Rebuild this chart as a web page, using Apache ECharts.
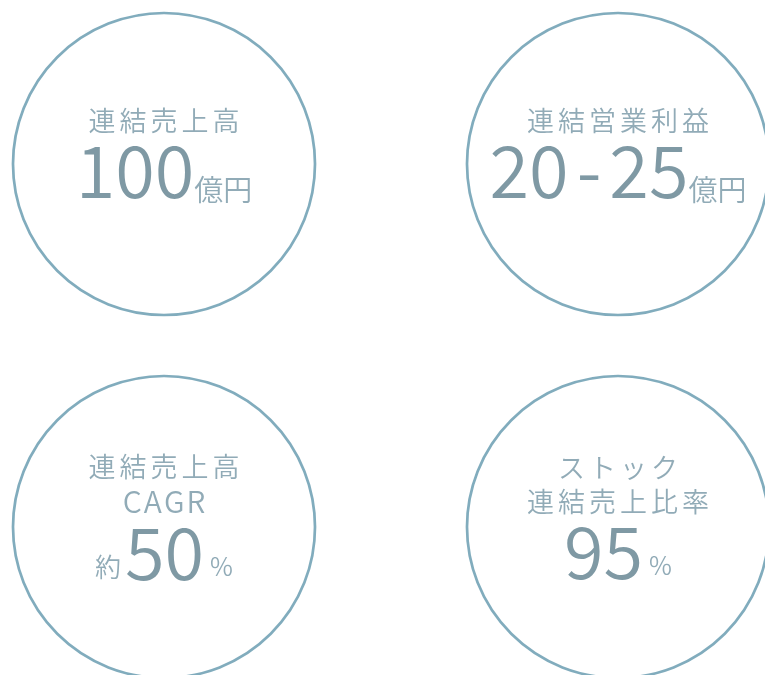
<!DOCTYPE html>
<html><head><meta charset="utf-8">
<script src="https://cdn.jsdelivr.net/npm/echarts@6/dist/echarts.min.js"></script>
<style>html,body{margin:0;padding:0;background:#fff}#c{width:765px;height:675px}</style>
</head><body><div id="c"></div>
<script>
const positions = [[0, 1], [1, 1], [0, 0], [1, 0]];
const titles = [['連結売上高'], ['連結営業利益'], ['連結売上高', 'CAGR'], ['ストック', '連結売上比率']];
const prefixes = ['', '', '約', ''];
const values = ['100', '20-25', '50', '95'];
const units = ['億円', '億円', '%', '%'];

const FONT = '"Noto Sans CJK JP", "Noto Sans", sans-serif';
const labelColor = '#7596a5';
const numColor = '#5f7f8d';

function spaced(s, style) {
  return Array.from(s).map(c => '{' + style + '|' + c + '}').join('');
}
function numTokens(s) {
  return s.split(/(-)/).filter(x => x).map(x => x === '-' ? '{h|-}' : '{n|' + x + '}').join('');
}
function fmt(i) {
  const t = titles[i].map(s => /^[A-Z]+$/.test(s) ? spaced(s, 'e') : spaced(s, 't'));
  let last = '';
  if (prefixes[i]) last += '{p|' + prefixes[i] + '}';
  last += numTokens(values[i]);
  last += units[i] === '%' ? '{q|' + units[i] + '}' : spaced(units[i], 'u');
  return t.join('\n') + '\n' + last;
}

const W = 350;
const chart = echarts.init(document.getElementById('c'));
chart.setOption({
  animation: false,
  grid: { left: 164, top: 164, width: 454, height: 363 },
  xAxis: { type: 'value', min: 0, max: 1, show: false },
  yAxis: { type: 'value', min: 0, max: 1, show: false },
  series: [{
    type: 'scatter',
    symbol: 'circle',
    symbolSize: 302,
    itemStyle: { color: 'rgba(0,0,0,0)', borderColor: '#6197ad', borderWidth: 2.7 },
    data: positions.map((p, i) => ({
      value: p,
      label: { offset: [0, titles[i].length === 1 ? -10 : -9] }
    })),
    label: {
      show: true,
      position: 'inside',
      align: 'center',
      fontFamily: FONT,
      formatter: p => fmt(p.dataIndex),
      rich: {
        t: { fontFamily: FONT, fontSize: 27, fontWeight: W, color: labelColor, lineHeight: 34, padding: [0, 2, 0, 2] },
        e: { fontFamily: FONT, fontSize: 30, fontWeight: W, color: labelColor, lineHeight: 36, padding: [0, 1, 0, 1] },
        n: { fontFamily: FONT, fontSize: 72, fontWeight: W, color: numColor, lineHeight: 66 },
        h: { fontFamily: FONT, fontSize: 72, fontWeight: W, color: numColor, lineHeight: 66, padding: [0, 8, 0, 8] },
        u: { fontFamily: FONT, fontSize: 29, fontWeight: W, color: labelColor, lineHeight: 66, verticalAlign: 'bottom' },
        p: { fontFamily: FONT, fontSize: 26, fontWeight: W, color: labelColor, lineHeight: 66, verticalAlign: 'bottom', padding: [0, 4, 6, 0] },
        q: { fontFamily: FONT, fontSize: 25, fontWeight: W, color: labelColor, lineHeight: 66, verticalAlign: 'bottom', padding: [0, 0, 7, 6] }
      }
    }
  }]
});
</script></body></html>
